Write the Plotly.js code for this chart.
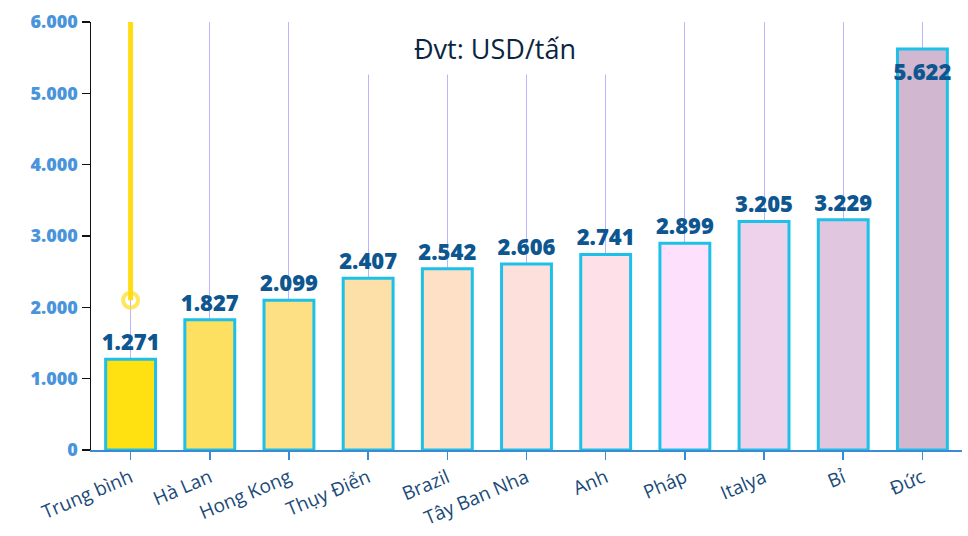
<!DOCTYPE html>
<html>
<head>
<meta charset="utf-8">
<script src="https://cdn.plot.ly/plotly-3.0.1.min.js"></script>
<style>html,body{margin:0;padding:0;background:#fff;}#chart{width:968px;height:536px;}</style>
</head>
<body>
<div id="chart"></div>
<script>
const categories = ['Trung bình','Hà Lan','Hong Kong','Thụy Điển','Brazil','Tây Ban Nha','Anh','Pháp','Italya','Bỉ','Đức'];
const values = [1271, 1827, 2099, 2407, 2542, 2606, 2741, 2899, 3205, 3229, 5622];
const barColors = ['#ffe010','#fde060','#fde084','#fde0a8','#fde0c6','#fde0dc','#fde0e8','#fde0fc','#eed2ec','#e0c6df','#d1b7cf'];
const labelPositions = ['top center','top center','top center','top center','top center','top center','top center','top center','top center','top center','bottom center'];
const labelPads = [4, 4, 4, 4, 4, 4, 4, 4, 4, 4, 22];
const markerCategory = ['Trung bình','Trung bình'];
const markerValues = [6000, 2100];
const yTicks = [0, 1000, 2000, 3000, 4000, 5000, 6000];
const titleText = 'Đvt: USD/tấn';

const bars = {
  type: 'bar', x: categories, y: values,
  marker: {color: barColors, line: {color: '#1ec0e8', width: 3}},
  width: 0.63, hoverinfo: 'x+y', showlegend: false
};
const labels = {
  type: 'scatter', mode: 'markers+text', x: categories, y: values,
  text: values.map(v => v.toLocaleString('de-DE')),
  textposition: labelPositions,
  marker: {size: labelPads, opacity: 0, color: '#fff'},
  textfont: {family: 'Open Sans, sans-serif', size: 22, color: '#0d5690', weight: 800},
  cliponaxis: false, showlegend: false, hoverinfo: 'skip'
};
const lollipop = {
  type: 'scatter', mode: 'lines+markers', x: markerCategory, y: markerValues,
  line: {color: '#ffdc14', width: 5},
  marker: {symbol: ['circle-open','circle-open'], size: [0, 15], color: '#ffdc14', line: {width: 4, color: '#ffdc14'}},
  cliponaxis: false, showlegend: false, hoverinfo: 'skip'
};

const layout = {
  width: 968, height: 536,
  margin: {l: 91, r: 6, t: 22, b: 86},
  paper_bgcolor: '#fff', plot_bgcolor: '#fff',
  separators: ',.',
  xaxis: {
    type: 'category', range: [-0.5, 10.5],
    showgrid: true, gridcolor: '#bcb4ff', gridwidth: 1,
    showline: true, linecolor: '#3a8ad4', linewidth: 1.5,
    ticks: 'outside', ticklen: 8, tickcolor: '#3a8ad4', tickwidth: 1.5,
    tickangle: -23,
    tickfont: {family: 'Open Sans, sans-serif', size: 19, color: '#1a4a78'}
  },
  yaxis: {
    range: [0, 6000], tickvals: yTicks, tickformat: ',d',
    showgrid: false, zeroline: false,
    showline: true, linecolor: '#111', linewidth: 1.5,
    ticks: 'outside', ticklen: 8, tickcolor: '#111', tickwidth: 1.5,
    tickfont: {family: 'Open Sans, sans-serif', size: 18, color: '#4a94dc', weight: 800}
  },
  annotations: [{
    xref: 'paper', yref: 'paper', x: 0.464, y: 0.94, xanchor: 'center', yanchor: 'middle',
    text: titleText, showarrow: false, bgcolor: '#fff', width: 300, height: 50,
    font: {family: 'Open Sans, sans-serif', size: 27, color: '#0a2540'}
  }]
};

Plotly.newPlot('chart', [bars, lollipop, labels], layout, {displayModeBar: false, staticPlot: true});
</script>
</body>
</html>
